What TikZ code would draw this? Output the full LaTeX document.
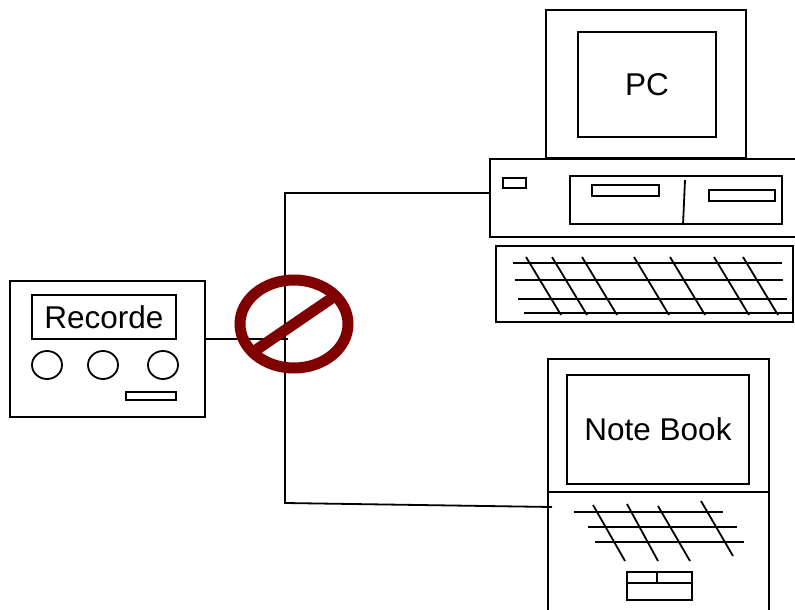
\documentclass[tikz,border=0pt]{standalone}
\usepackage{fontspec}
\setmainfont{Liberation Sans}
\usetikzlibrary{calc}
\definecolor{signred}{HTML}{800000}
\begin{document}
\begin{tikzpicture}[x=1pt,y=-1pt,line width=1.8pt,
  frame/.style={draw,rectangle,inner sep=0pt,outer sep=0pt,fill=white},
  label/.style={font=\fontsize{31.5}{31.5}\selectfont},
  keys/.style={line width=1.8pt},
  sign/.style={draw=signred,line width=11pt}]
\useasboundingbox (0,0) rectangle (795,610);

% desktop PC: monitor, system unit, keyboard
\node (pcmon) [frame,minimum width=200pt,minimum height=148pt] at (646,84) {};
\node (pcscreen) [frame,minimum width=138pt,minimum height=105pt,label] at (647,84.5) {PC};
\node (pcunit) [frame,minimum width=310pt,minimum height=78pt] at (645,198) {};
\draw (503,178) rectangle (526,188);
\draw (570,176) rectangle (782,224);
\draw (592,185) rectangle (659,196);
\draw (709,190) rectangle (775,201);
\draw (685,180) -- (683,225);
\node (pckbd) [frame,minimum width=297pt,minimum height=76pt] at (644.5,284) {};
\begin{scope}[keys]
  \draw (513,263) -- (782,263);
  \draw (515,280) -- (783,280);
  \draw (518,299) -- (787,299);
  \draw (524,313) -- (793,313);
  \foreach \a/\b in {526/561,552/587,582/617,634/669,670/705,714/749,743/778}
    \draw (\a,257) -- (\b,315);
\end{scope}

% notebook
\node (notebook) [frame,minimum width=221pt,minimum height=261pt] at (658.5,489.5) {};
\node (nbscreen) [frame,minimum width=182pt,minimum height=109pt,label] at (658,429.5) {Note Book};
\draw (548,492) -- (769,492);
\begin{scope}[keys]
  \draw (574,512) -- (723,512);
  \draw (588,527) -- (737,527);
  \draw (595,542) -- (744,542);
  \draw (593,505) -- (625,561);
  \draw (627,504) -- (658,561);
  \draw (658,506) -- (690,561);
  \draw (701,501) -- (733,556);
\end{scope}
\draw (627,572) rectangle (692,600);
\draw (627,583) -- (692,583);
\draw (657,572) -- (657,583);

% recorder
\node (recorder) [frame,minimum width=195pt,minimum height=136pt] at (107.5,349) {};
\node (reclabel) [frame,minimum width=144pt,minimum height=44pt,label] at (104,317) {Recorde};
\foreach \cx in {47,103,163}
  \draw (\cx,365) ellipse [x radius=15,y radius=14];
\draw (126,392) rectangle (176,400);

% wiring
\coordinate (rjoin) at (288,339);
\coordinate (bustop) at (285,193);
\coordinate (busbot) at (285,503);
\draw (rjoin -| recorder.east) -- (rjoin);
\draw (pcunit.west |- bustop) -- (bustop) -- (busbot) -- ([xshift=4pt]notebook.west |- 0,507);

% prohibition sign over the junction
\coordinate (nosign) at (294,324);
\draw[sign] (nosign) ellipse [x radius=54,y radius=44];
\draw[sign] ($(nosign)+(41.4,-28.3)$) -- ($(nosign)+(-41.4,28.3)$);
\end{tikzpicture}
\end{document}
